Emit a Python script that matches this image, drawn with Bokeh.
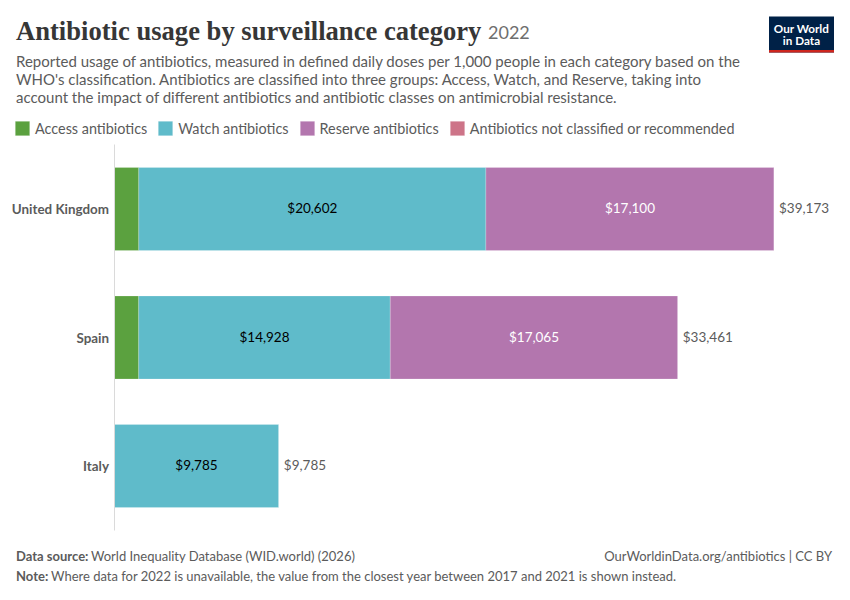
from bokeh.plotting import figure
from bokeh.core.properties import value
from bokeh.models import ColumnDataSource, Range1d, Label, BoxAnnotation, FixedTicker
from bokeh.embed import file_html
from bokeh.resources import INLINE

countries = ["United Kingdom", "Spain", "Italy"]
access_values = [1471, 1468, 0]
watch_values = [20602, 14928, 9785]
reserve_values = [17100, 17065, 0]
unclassified_values = [0, 0, 0]
totals = [39173, 33461, 9785]
series_names = ["Access antibiotics", "Watch antibiotics", "Reserve antibiotics",
                "Antibiotics not classified or recommended"]
series_colors = ["#5ba13f", "#5fbbca", "#b376ae", "#cd7488"]

title_text = "Antibiotic usage by surveillance category"
year_text = "2022"
subtitle_lines = [
    "Reported usage of antibiotics, measured in defined daily doses per 1,000 people in each category based on the",
    "WHO's classification. Antibiotics are classified into three groups: Access, Watch, and Reserve, taking into",
    "account the impact of different antibiotics and antibiotic classes on antimicrobial resistance.",
]
source_bold = "Data source:"
source_text = "World Inequality Database (WID.world) (2026)"
note_bold = "Note:"
note_text = "Where data for 2022 is unavailable, the value from the closest year between 2017 and 2021 is shown instead."
credit_text = "OurWorldinData.org/antibiotics | CC BY"

FONT = "Lato"
GREY = "#5b5b5b"
W, H = 850, 600
AXIS_X = 113.5
BAR_PX = 660
ROW0_Y, ROW_PITCH = 208.5, 128.5

units_per_px = max(totals) / BAR_PX
rows = list(range(len(countries)))
p = figure(width=W, height=H, output_backend="svg", toolbar_location=None,
           x_range=Range1d(-AXIS_X * units_per_px, (W - AXIS_X) * units_per_px),
           y_range=Range1d((H - ROW0_Y) / ROW_PITCH, -ROW0_Y / ROW_PITCH),
           min_border=0, outline_line_color=None,
           background_fill_color="white", border_fill_color="white")
p.xgrid.visible = False
p.ygrid.visible = False
p.xaxis.visible = False
ax = p.yaxis[0]
ax.fixed_location = 0
ax.bounds = (-0.5, 2.5)
ax.ticker = FixedTicker(ticks=rows)
ax.major_label_overrides = dict(zip(rows, countries))
ax.axis_line_color = "#dadada"
ax.axis_line_width = 1
ax.major_tick_line_color = None
ax.minor_tick_line_color = None
ax.major_tick_out = 0
ax.major_tick_in = 0
ax.minor_tick_out = 0
ax.minor_tick_in = 0
ax.major_label_text_font = FONT
ax.major_label_text_font_style = "bold"
ax.major_label_text_font_size = "13.4px"
ax.major_label_text_color = GREY
ax.major_label_standoff = 5

cols = ["access", "watch", "reserve", "unclassified"]
src = ColumnDataSource(dict(row=rows, access=access_values, watch=watch_values,
                            reserve=reserve_values, unclassified=unclassified_values))
p.hbar_stack(cols, y="row", height=83 / ROW_PITCH, color=series_colors, line_color="white",
             line_width=0.5, line_alpha=0.4, source=src, legend_label=series_names)

leg = p.legend[0]
leg.orientation = "horizontal"
leg.location = (13, H - 137)
leg.glyph_width = 18
leg.glyph_height = 18
leg.label_standoff = 4
leg.spacing = 9
leg.padding = 0
leg.margin = 0
leg.border_line_alpha = 0
leg.background_fill_alpha = 0
leg.label_text_font = FONT
leg.label_text_font_size = "14.4px"
leg.label_text_color = GREY
leg.label_height = 14
leg.click_policy = "none"

# value labels
lab = dict(text_font=value(FONT), text_font_size=value("13.5px"), text_baseline="middle", y_offset=-1)
wx = [a + w / 2 for a, w in zip(access_values, watch_values)]
p.text(wx, rows, text=[f"${v:,}" for v in watch_values], text_color="black", text_align="center", **lab)
rk = [i for i, v in enumerate(reserve_values) if v > 0]
rx = [access_values[i] + watch_values[i] + reserve_values[i] / 2 for i in rk]
p.text(rx, rk, text=[f"${reserve_values[i]:,}" for i in rk], text_color="white", text_align="center", **lab)
p.text([t + 5 * units_per_px for t in totals], rows, text=[f"${v:,}" for v in totals],
       text_color=GREY, text_align="left", **lab)


def put(text, x, y, size, color=GREY, font=FONT, style="normal", align="left", baseline="alphabetic"):
    p.add_layout(Label(x=x - 0.5, y=H - y, x_units="screen", y_units="screen", text=text,
                       text_font=font, text_font_size=size, text_color=color, text_font_style=style,
                       text_align=align, text_baseline=baseline))


put(title_text, 16, 30, "26.6px", "#363636", "Liberation Serif", "bold")
put(year_text, 488, 32, "18px", "#6e6e6e")
for line, y in zip(subtitle_lines, (60.5, 78.5, 96.5)):
    put(line, 16, y, "15px")
put(source_bold, 16, 555, "13px", GREY, style="bold")
put(source_text, 91, 555, "13px")
put(note_bold, 16, 575, "13px", GREY, style="bold")
put(note_text, 51, 575, "13px")
put(credit_text, 832, 555, "13px", align="right")

p.add_layout(BoxAnnotation(left=768.5, right=833.5, top=H - 16, bottom=H - 52,
                           left_units="screen", right_units="screen", top_units="screen", bottom_units="screen",
                           fill_color="#002147", fill_alpha=1, line_alpha=0))
p.add_layout(BoxAnnotation(left=768.5, right=833.5, top=H - 49.5, bottom=H - 52,
                           left_units="screen", right_units="screen", top_units="screen", bottom_units="screen",
                           fill_color="#ce261e", fill_alpha=1, line_alpha=0))
put("Our World", 801.5, 27, "11.7px", "white", style="bold", align="center")
put("in Data", 801.5, 39, "11.7px", "white", style="bold", align="center")

open("out.html", "w").write(file_html(p, INLINE))
